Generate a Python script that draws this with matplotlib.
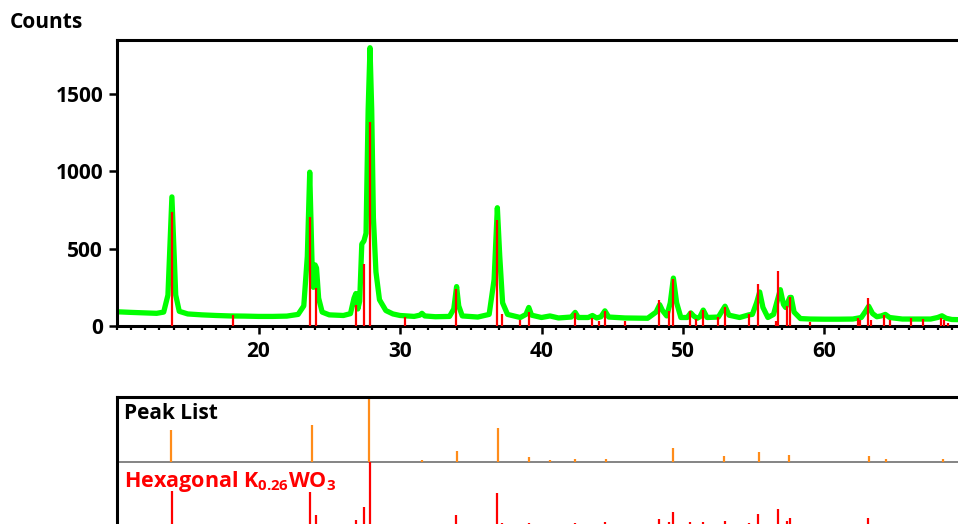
import matplotlib
matplotlib.use("Agg")
import matplotlib.pyplot as plt
from matplotlib.ticker import MultipleLocator

plt.rcParams['font.family'] = ['Open Sans', 'DejaVu Sans']
plt.rcParams['font.weight'] = 'bold'
plt.rcParams['mathtext.fontset'] = 'custom'
plt.rcParams['mathtext.rm'] = 'Open Sans:bold'
plt.rcParams['mathtext.bf'] = 'Open Sans:bold'
plt.rcParams['mathtext.default'] = 'bf'

obs_2theta = [10.0, 11.0, 12.0, 12.8, 13.3, 13.6, 13.75, 13.88, 14.0, 14.15, 14.4, 15.0, 16.0, 17.0,
              18.0, 19.0, 20.0, 21.0, 22.0, 22.8, 23.2, 23.45, 23.62, 23.78, 23.88, 24.0, 24.1,
              24.25, 24.5, 25.0, 26.0, 26.5, 26.75, 26.88, 27.02, 27.15, 27.3, 27.45, 27.6, 27.75,
              27.88, 28.0, 28.12, 28.3, 28.55, 29.0, 29.5, 30.0, 31.0, 31.4, 31.55, 31.75, 32.5,
              33.5, 33.8, 34.0, 34.15, 34.4, 35.5, 36.3, 36.65, 36.88, 37.05, 37.25, 37.6, 38.5,
              38.9, 39.1, 39.3, 40.0, 40.6, 41.2, 42.1, 42.38, 42.6, 43.3, 43.6, 43.9, 44.2,
              44.48, 44.75, 45.9, 47.5, 48.1, 48.35, 48.55, 48.85, 49.1, 49.32, 49.55, 49.85,
              50.3, 50.55, 50.75, 51.0, 51.2, 51.43, 51.7, 52.5, 52.97, 53.25, 54.0, 54.65, 54.9,
              55.2, 55.42, 55.65, 56.0, 56.4, 56.65, 56.88, 57.1, 57.25, 57.55, 57.65, 57.85,
              58.3, 59.0, 60.0, 61.0, 62.0, 62.6, 62.9, 63.12, 63.4, 63.7, 64.0, 64.3, 64.6,
              65.5, 66.5, 67.5, 68.0, 68.3, 68.6, 69.0, 70.0]
obs_counts = [92, 88, 85, 82, 90, 200, 550, 835, 560, 200, 95, 78, 72, 68,
              65, 64, 62, 62, 64, 75, 130, 450, 995, 420, 250, 395, 375,
              180, 90, 72, 68, 80, 180, 210, 110, 160, 530, 550, 600, 1400,
              1800, 1400, 700, 350, 170, 100, 78, 68, 62, 70, 82, 65, 60,
              62, 110, 255, 130, 65, 58, 75, 300, 765, 450, 150, 75, 55,
              75, 120, 70, 55, 65, 52, 58, 88, 55, 55, 68, 52, 60,
              98, 58, 52, 50, 90, 138, 100, 65, 150, 310, 150, 55,
              55, 85, 65, 50, 60, 103, 55, 58, 128, 70, 55, 72, 75,
              150, 220, 120, 55, 75, 160, 235, 140, 120, 185, 185, 90,
              48, 45, 44, 44, 45, 55, 95, 128, 80, 60, 65, 75, 55,
              45, 45, 45, 55, 66, 50, 42, 40]

# Reference pattern: Hexagonal K0.26WO3 (2theta, scaled counts)
ref_2theta = [13.89, 18.18, 23.62, 24.04, 26.89, 27.43, 27.86, 30.33, 33.96, 36.83, 37.21,
              38.48, 39.09, 42.39, 43.57, 44.09, 44.49, 45.90, 48.30, 49.03, 49.29, 50.47,
              50.92, 51.43, 52.47, 52.99, 54.64, 55.32, 56.57, 56.69, 57.32, 57.56, 58.97,
              62.39, 62.51, 63.08, 63.29, 64.20, 64.63, 66.11, 66.94, 68.23, 68.47, 68.76]
ref_counts = [740, 71, 705, 248, 136, 403, 1322, 60, 239, 686, 78,
              39, 91, 84, 54, 32, 99, 32, 168, 97, 304, 97,
              45, 101, 58, 123, 75, 274, 32, 358, 129, 187, 28,
              54, 39, 183, 39, 71, 39, 50, 47, 54, 39, 19]

# Peak list (2theta, relative height)
peak_2theta = [13.82, 23.80, 27.78, 31.53, 34.03, 36.90, 39.10, 40.60, 42.39, 44.53,
               49.32, 52.92, 55.35, 57.47, 63.15, 64.37, 68.40]
peak_rel = [0.50, 0.57, 1.00, 0.03, 0.17, 0.53, 0.08, 0.03, 0.05, 0.05,
            0.21, 0.09, 0.15, 0.11, 0.09, 0.05, 0.05]

xticks = [20, 30, 40, 50, 60]
yticks = [0, 500, 1000, 1500]

W, H = 958, 524
fig = plt.figure(figsize=(W / 100, H / 100), dpi=100)

def fx(px):
    return px / W

def fy(py):
    return 1 - py / H

# Main axes
ax = fig.add_axes([fx(117), fy(326), fx(966) - fx(117), fy(40) - fy(326)])
ax.plot(obs_2theta, obs_counts, color='#00FF00', lw=3.8, solid_joinstyle='round', zorder=2)
ax.vlines(ref_2theta, 0, ref_counts, color='#FF0000', lw=1.6, zorder=3)
ax.set_xlim(10, 70)
ax.set_ylim(0, 1850)
ax.set_xticks(xticks)
ax.set_yticks(yticks)
ax.xaxis.set_minor_locator(MultipleLocator(1))
for s in ['left', 'top', 'bottom', 'right']:
    ax.spines[s].set_linewidth(2.2)
    ax.spines[s].set_color('black')
ax.tick_params(axis='both', which='major', direction='out', length=6, width=1.8,
               labelsize=15, pad=4)
ax.tick_params(axis='x', which='major', pad=5)
ax.tick_params(axis='x', which='minor', direction='out', length=3, width=1.6)
for lab in ax.get_xticklabels() + ax.get_yticklabels():
    lab.set_fontweight('bold')
fig.text(fx(10), fy(22), 'Counts', fontsize=15, fontweight='bold', ha='left', va='center')

# Bottom panel
bx = fig.add_axes([fx(117), fy(527), fx(966) - fx(117), fy(397) - fy(527)])
bx.set_xlim(10, 70)
bx.set_ylim(-1, 1)
bx.axhline(0, color='#707070', lw=1.2, zorder=1)
bx.vlines(peak_2theta, 0, peak_rel, color='#FF8C1A', lw=1.6, zorder=2)
rmax = max(ref_counts)
bx.vlines(ref_2theta, -1, [-1 + c / rmax for c in ref_counts], color='#FF0000', lw=1.6, zorder=2)
bx.set_xticks([])
bx.set_yticks([])
for s in ['left', 'top', 'bottom', 'right']:
    bx.spines[s].set_linewidth(2.2)
    bx.spines[s].set_color('black')
bx.text(0.008, 0.87, 'Peak List', transform=bx.transAxes, fontsize=15,
        fontweight='bold', color='black', ha='left', va='center')
bx.text(0.008, 0.35, r'Hexagonal K$_{0.26}$WO$_{3}$', transform=bx.transAxes, fontsize=15.5,
        fontweight='bold', color='#FF0000', ha='left', va='center')

fig.savefig('out.png', dpi=100)
